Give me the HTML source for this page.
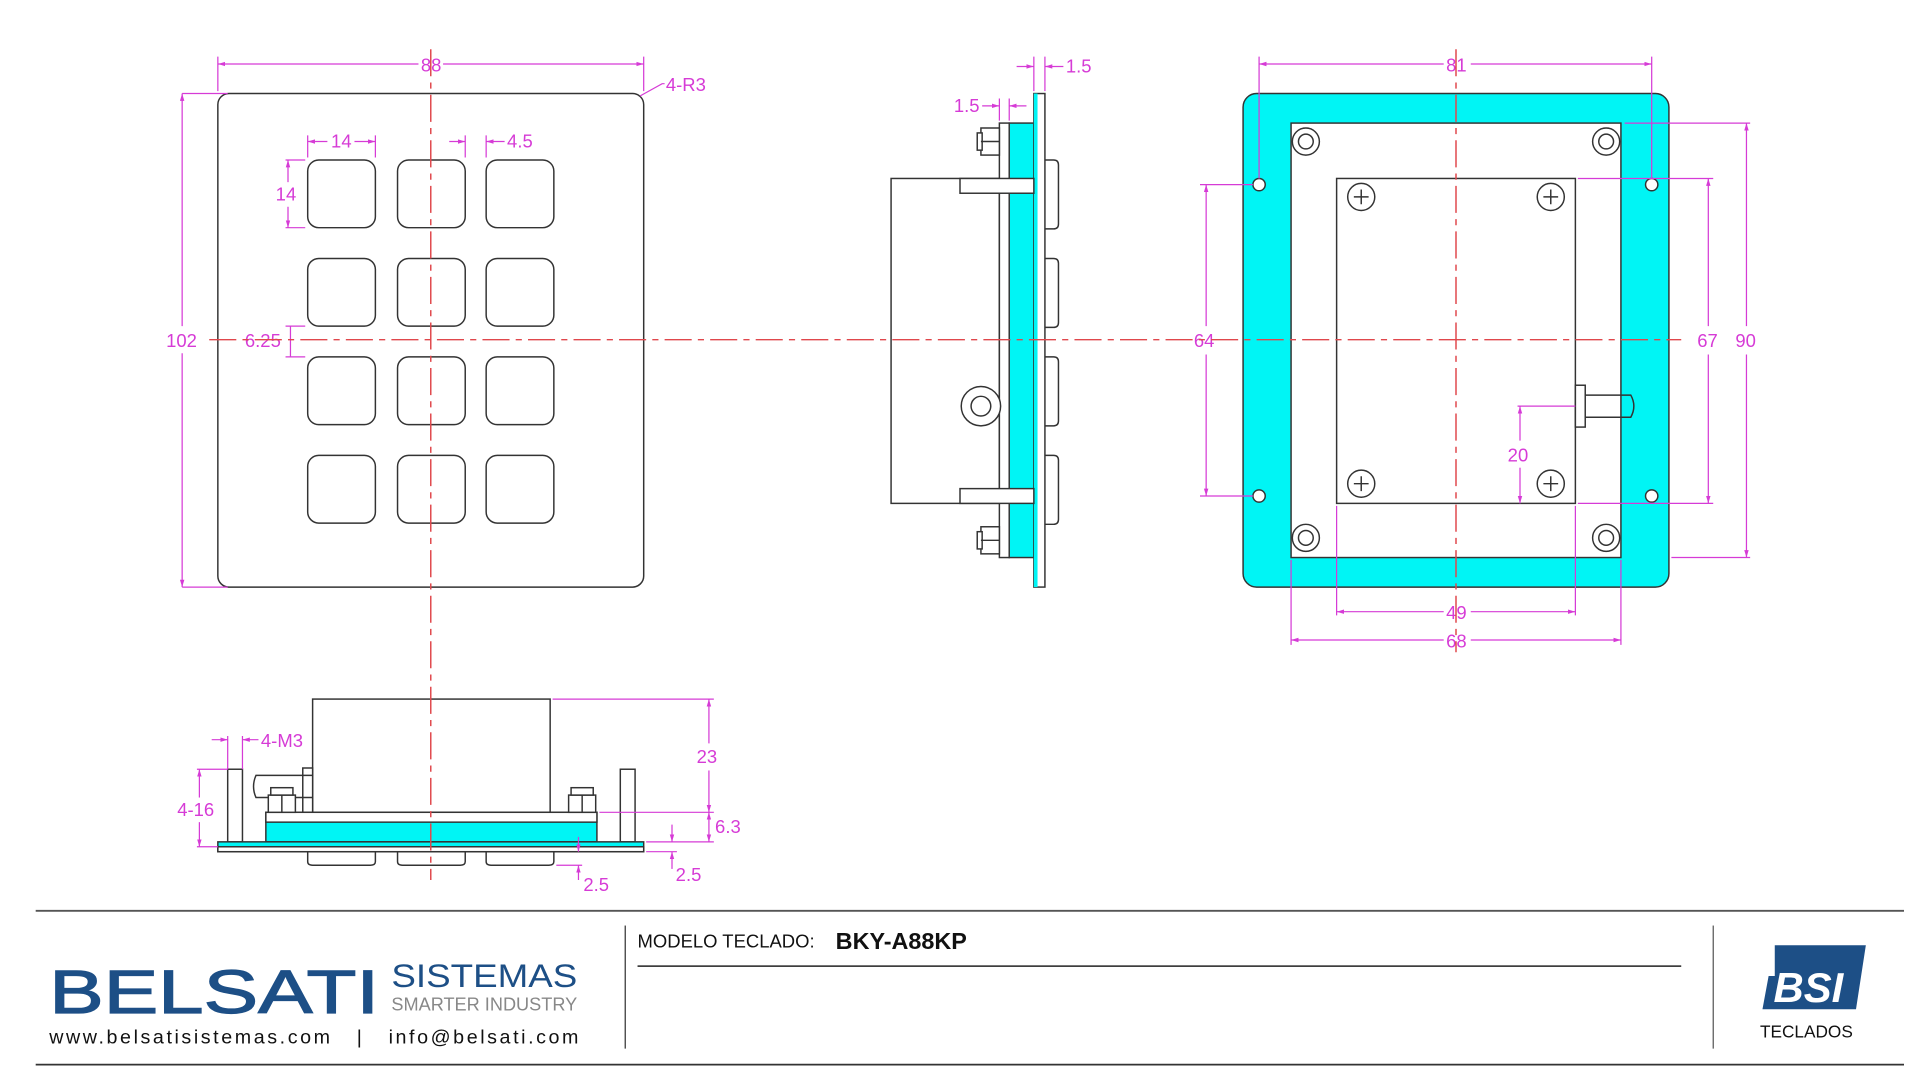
<!DOCTYPE html>
<html><head><meta charset="utf-8"><style>
html,body{margin:0;padding:0;background:#fff;width:1920px;height:1080px;overflow:hidden}
svg{display:block}
.o{fill:none;stroke:#333;stroke-width:1.2}
.w{fill:#fff;stroke:#333;stroke-width:1.2}
.c{fill:#00f5f5;stroke:#333;stroke-width:1.2}
.d{stroke:#d63bd6;stroke-width:1;fill:none}
.cl{stroke:#e0474c;stroke-width:1.2;stroke-dasharray:22 5 5 5;fill:none}
.t{fill:#d63bd6;font-family:"Liberation Sans",sans-serif;font-size:15px}
</style></head><body>
<svg width="1920" height="1080" viewBox="0 0 1560 877.5" preserveAspectRatio="none" xmlns="http://www.w3.org/2000/svg">
<defs>
<marker id="a" viewBox="0 0 10 10" refX="10" refY="5" markerWidth="6" markerHeight="6" orient="auto-start-reverse"><path d="M0,2 L10,5 L0,8z" fill="#d63bd6"/></marker>
</defs>
<!-- FRONT VIEW -->
<rect x="177" y="76" width="346" height="401" rx="9" class="o"/>
<g class="o">
<rect x="250" y="130" width="55" height="55" rx="9"/><rect x="323" y="130" width="55" height="55" rx="9"/><rect x="395" y="130" width="55" height="55" rx="9"/>
<rect x="250" y="210" width="55" height="55" rx="9"/><rect x="323" y="210" width="55" height="55" rx="9"/><rect x="395" y="210" width="55" height="55" rx="9"/>
<rect x="250" y="290" width="55" height="55" rx="9"/><rect x="323" y="290" width="55" height="55" rx="9"/><rect x="395" y="290" width="55" height="55" rx="9"/>
<rect x="250" y="370" width="55" height="55" rx="9"/><rect x="323" y="370" width="55" height="55" rx="9"/><rect x="395" y="370" width="55" height="55" rx="9"/>
</g>
<!-- dims front -->
<path class="d" d="M177,46V74 M523,46V74 M148,76H185 M148,477H185"/>
<line class="d" x1="177" y1="52" x2="340" y2="52" marker-start="url(#a)"/><line class="d" x1="360" y1="52" x2="523" y2="52" marker-end="url(#a)"/>
<text class="t" x="342" y="58">88</text>
<path class="d" d="M520,78 L538,68 H540"/><text class="t" x="541" y="74">4-R3</text>
<line class="d" x1="148" y1="76" x2="148" y2="265" marker-start="url(#a)"/><line class="d" x1="148" y1="287" x2="148" y2="477" marker-end="url(#a)"/>
<text class="t" x="135" y="282">102</text>
<path class="d" d="M250,110V128 M305,110V128 M232,130H248 M232,185H248 M378,110V128 M395,110V128"/>
<line class="d" x1="250" y1="115" x2="266" y2="115" marker-start="url(#a)"/><line class="d" x1="288" y1="115" x2="305" y2="115" marker-end="url(#a)"/>
<text class="t" x="269" y="120">14</text>
<line class="d" x1="234" y1="130" x2="234" y2="148" marker-start="url(#a)"/><line class="d" x1="234" y1="168" x2="234" y2="185" marker-end="url(#a)"/>
<text class="t" x="224" y="163">14</text>
<line class="d" x1="365" y1="115" x2="378" y2="115" marker-end="url(#a)"/><line class="d" x1="410" y1="115" x2="395" y2="115" marker-end="url(#a)"/>
<text class="t" x="412" y="120">4.5</text>
<path class="d" d="M232,265H248 M232,290H248 M236,265V290"/>
<text class="t" x="199" y="282">6.25</text>
<!-- SIDE VIEW -->
<rect x="724" y="145" width="88" height="264" class="w"/>
<rect x="812" y="100" width="8" height="353" class="w"/>
<rect x="820" y="100" width="20" height="353" class="c"/>
<rect x="840" y="76" width="9" height="401" class="w"/>
<rect x="840" y="76" width="3" height="401" fill="#00f5f5"/>
<g class="o">
<path d="M849,130H856Q860,130 860,134V182Q860,186 856,186H849"/>
<path d="M849,210H856Q860,210 860,214V262Q860,266 856,266H849"/>
<path d="M849,290H856Q860,290 860,294V342Q860,346 856,346H849"/>
<path d="M849,370H856Q860,370 860,374V422Q860,426 856,426H849"/>
</g>
<rect x="780" y="145" width="60" height="12" class="w"/><rect x="780" y="397" width="60" height="12" class="w"/>
<g class="w"><rect x="797" y="104" width="15" height="22"/><rect x="794" y="108" width="4" height="14"/><line x1="797" y1="115" x2="812" y2="115"/>
<rect x="797" y="428" width="15" height="22"/><rect x="794" y="432" width="4" height="14"/><line x1="797" y1="439" x2="812" y2="439"/></g>
<circle cx="797" cy="330" r="16" class="w"/><circle cx="797" cy="330" r="8" class="w"/>
<path class="d" d="M840,46V74 M849,46V74 M812,80V98 M820,80V98"/>
<line class="d" x1="826" y1="54" x2="840" y2="54" marker-end="url(#a)"/><line class="d" x1="864" y1="54" x2="849" y2="54" marker-end="url(#a)"/>
<text class="t" x="866" y="59">1.5</text>
<line class="d" x1="798" y1="86" x2="812" y2="86" marker-end="url(#a)"/><line class="d" x1="834" y1="86" x2="820" y2="86" marker-end="url(#a)"/>
<text class="t" x="775" y="91">1.5</text>
<!-- RIGHT VIEW -->
<rect x="1010" y="76" width="346" height="401" rx="11" class="c"/>
<rect x="1049" y="100" width="268" height="353" class="w"/>
<rect x="1086" y="145" width="194" height="264" class="w"/>
<rect x="1280" y="313" width="8" height="34" class="w"/><path class="o" d="M1288,321H1325Q1330,330 1325,339H1288"/>
<g class="w">
<circle cx="1023" cy="150" r="5"/><circle cx="1342" cy="150" r="5"/><circle cx="1023" cy="403" r="5"/><circle cx="1342" cy="403" r="5"/>
<circle cx="1061" cy="115" r="11"/><circle cx="1061" cy="115" r="6"/><circle cx="1305" cy="115" r="11"/><circle cx="1305" cy="115" r="6"/>
<circle cx="1061" cy="437" r="11"/><circle cx="1061" cy="437" r="6"/><circle cx="1305" cy="437" r="11"/><circle cx="1305" cy="437" r="6"/>
<circle cx="1106" cy="160" r="11"/><circle cx="1260" cy="160" r="11"/><circle cx="1106" cy="393" r="11"/><circle cx="1260" cy="393" r="11"/>
</g>
<g class="o" stroke-width="2"><path d="M1100,160h12M1106,154v12M1254,160h12M1260,154v12M1100,393h12M1106,387v12M1254,393h12M1260,387v12"/></g>
<path class="d" d="M1023,46V145 M1342,46V145 M1320,100H1422 M1358,453H1422 M1282,145H1392 M1282,409H1392 M975,150H1018 M975,403H1018 M1233,330H1280 M1086,411V500 M1280,411V500 M1049,455V524 M1317,455V524"/>
<line class="d" x1="1023" y1="52" x2="1173" y2="52" marker-start="url(#a)"/><line class="d" x1="1195" y1="52" x2="1342" y2="52" marker-end="url(#a)"/>
<text class="t" x="1175" y="58">81</text>
<line class="d" x1="1419" y1="100" x2="1419" y2="265" marker-start="url(#a)"/><line class="d" x1="1419" y1="288" x2="1419" y2="453" marker-end="url(#a)"/>
<text class="t" x="1410" y="282">90</text>
<line class="d" x1="1388" y1="145" x2="1388" y2="265" marker-start="url(#a)"/><line class="d" x1="1388" y1="288" x2="1388" y2="409" marker-end="url(#a)"/>
<text class="t" x="1379" y="282">67</text>
<line class="d" x1="980" y1="150" x2="980" y2="265" marker-start="url(#a)"/><line class="d" x1="980" y1="288" x2="980" y2="403" marker-end="url(#a)"/>
<text class="t" x="970" y="282">64</text>
<line class="d" x1="1235" y1="330" x2="1235" y2="358" marker-start="url(#a)"/><line class="d" x1="1235" y1="380" x2="1235" y2="409" marker-end="url(#a)"/>
<text class="t" x="1225" y="375">20</text>
<line class="d" x1="1086" y1="497" x2="1173" y2="497" marker-start="url(#a)"/><line class="d" x1="1195" y1="497" x2="1280" y2="497" marker-end="url(#a)"/>
<text class="t" x="1175" y="503">49</text>
<line class="d" x1="1049" y1="520" x2="1173" y2="520" marker-start="url(#a)"/><line class="d" x1="1195" y1="520" x2="1317" y2="520" marker-end="url(#a)"/>
<text class="t" x="1175" y="526">68</text>
<!-- BOTTOM VIEW -->
<rect x="254" y="568" width="193" height="92" class="w"/>
<rect x="246" y="624" width="8" height="36" class="w"/>
<path class="o" d="M254,630H208Q204,639 208,648H254"/>
<rect x="185" y="625" width="12" height="59" class="w"/><rect x="504" y="625" width="12" height="59" class="w"/>
<rect x="216" y="660" width="269" height="24" class="c"/><rect x="216" y="660" width="269" height="8" class="w"/>
<rect x="177" y="684" width="346" height="8" class="c"/><rect x="177" y="688" width="346" height="4" class="w"/>
<g class="o"><path d="M250,692v8q0,3 4,3h47q4,0 4,-3v-8 M323,692v8q0,3 4,3h47q4,0 4,-3v-8 M395,692v8q0,3 4,3h47q4,0 4,-3v-8"/></g>
<g class="w"><rect x="218" y="646" width="22" height="14"/><line x1="229" y1="646" x2="229" y2="660"/><rect x="220" y="640" width="18" height="6"/>
<rect x="462" y="646" width="22" height="14"/><line x1="473" y1="646" x2="473" y2="660"/><rect x="464" y="640" width="18" height="6"/></g>
<path class="d" d="M449,568H580 M487,660H580 M525,684H580 M525,692H550 M452,703H473 M160,625H185 M160,688H177 M185,598V625 M197,598V625"/>
<line class="d" x1="576" y1="568" x2="576" y2="604" marker-start="url(#a)"/><line class="d" x1="576" y1="626" x2="576" y2="660" marker-end="url(#a)"/>
<text class="t" x="566" y="620">23</text>
<line class="d" x1="576" y1="660" x2="576" y2="684" marker-start="url(#a)" marker-end="url(#a)"/>
<text class="t" x="581" y="677">6.3</text>
<line class="d" x1="546" y1="670" x2="546" y2="684" marker-end="url(#a)"/><line class="d" x1="546" y1="706" x2="546" y2="692" marker-end="url(#a)"/>
<text class="t" x="549" y="716">2.5</text>
<line class="d" x1="470" y1="680" x2="470" y2="692" marker-end="url(#a)" stroke="#2040d0"/><line class="d" x1="470" y1="715" x2="470" y2="703" marker-end="url(#a)"/>
<text class="t" x="474" y="724">2.5</text>
<line class="d" x1="162" y1="625" x2="162" y2="648" marker-start="url(#a)"/><line class="d" x1="162" y1="668" x2="162" y2="688" marker-end="url(#a)"/>
<text class="t" x="144" y="663">4-16</text>
<line class="d" x1="172" y1="601" x2="185" y2="601" marker-end="url(#a)"/><line class="d" x1="210" y1="601" x2="197" y2="601" marker-end="url(#a)"/>
<text class="t" x="212" y="607">4-M3</text>
<!-- center lines -->
<line class="cl" x1="350" y1="40" x2="350" y2="715"/>
<line class="cl" x1="170" y1="276" x2="1366" y2="276"/>
<line class="cl" x1="1183" y1="40" x2="1183" y2="530"/>
<!-- FOOTER -->
<line x1="29" y1="740" x2="1547" y2="740" stroke="#555" stroke-width="1.5"/>
<line x1="29" y1="865" x2="1547" y2="865" stroke="#333" stroke-width="1.5"/>
<line x1="508" y1="752" x2="508" y2="852" stroke="#333"/>
<line x1="1392" y1="752" x2="1392" y2="852" stroke="#555"/>
<line x1="518" y1="785" x2="1366" y2="785" stroke="#222" stroke-width="1.2"/>
<text x="40" y="823" font-family="Liberation Sans,sans-serif" font-size="50" fill="#1d4f86" stroke="#1d4f86" stroke-width="1" textLength="268" lengthAdjust="spacingAndGlyphs">BELSATI</text>
<text x="318" y="802" font-family="Liberation Sans,sans-serif" font-size="26" fill="#1d4f86" textLength="151" lengthAdjust="spacingAndGlyphs">SISTEMAS</text>
<text x="318" y="821" font-family="Liberation Sans,sans-serif" font-size="15" fill="#888" textLength="151" lengthAdjust="spacingAndGlyphs">SMARTER INDUSTRY</text>
<text x="40" y="848" font-family="Liberation Sans,sans-serif" font-size="16" fill="#111" textLength="430" lengthAdjust="spacing">www.belsatisistemas.com &#160;&#160;| &#160;&#160;info@belsati.com</text>
<text x="518" y="770" font-family="Liberation Sans,sans-serif" font-size="15" fill="#111">MODELO TECLADO:</text>
<text x="679" y="771" font-family="Liberation Sans,sans-serif" font-size="19" font-weight="bold" fill="#111">BKY-A88KP</text>
<g fill="#1d4f86"><path d="M1442,768H1516L1508,820H1432L1437,793H1442Z"/></g>
<text x="1441" y="814" font-family="Liberation Sans,sans-serif" font-size="34" font-weight="bold" font-style="italic" fill="#fff">BSI</text>
<text x="1430" y="843" font-family="Liberation Sans,sans-serif" font-size="14" fill="#111">TECLADOS</text>
</svg>
</body></html>
